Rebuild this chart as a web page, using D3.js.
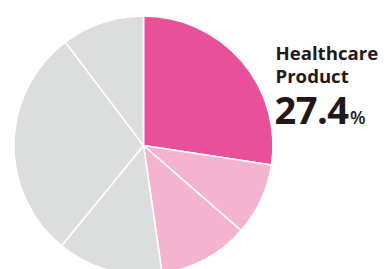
<!DOCTYPE html>
<html><head><meta charset="utf-8">
<script src="https://cdn.jsdelivr.net/npm/d3@7"></script>
<style>html,body{margin:0;padding:0;background:#fff;overflow:hidden}</style>
</head><body>
<svg id="c" width="387" height="269"></svg>
<script>
const categories = ["Healthcare Product","Segment B","Segment C","Segment D","Segment E","Segment F"];
const values = [27.4, 9.0, 11.3, 13.2, 28.8, 10.3];
const colors = ["#E8519A","#F4B4CF","#F4B4CF","#DCDEDD","#DCDEDD","#DCDEDD"];
const labelLines = ["Healthcare","Product"];
const labelValue = "27.4";

const svg = d3.select("#c");
const cx = 143.5, cy = 145.5, r = 129.5;
const pie = d3.pie().sort(null).value(d => d)(values);
const arc = d3.arc().innerRadius(0).outerRadius(r);
const g = svg.append("g").attr("transform", `translate(${cx},${cy})`);
g.selectAll("path").data(pie).join("path")
  .attr("d", arc)
  .attr("fill", (d,i) => colors[i])
  .attr("stroke", "#fff")
  .attr("stroke-width", 1.6)
  .attr("stroke-linejoin", "round");

const font = "'Open Sans', 'Noto Sans', sans-serif";
const t = svg.append("g").attr("fill", "#231815").style("font-family", font);
t.selectAll("text.l").data(labelLines).join("text").attr("class","l")
  .attr("x", 275.5).attr("y", (d,i) => 59.5 + i*23.3)
  .attr("font-size", 18.6).attr("font-weight", 700)
  .text(d => d);
const vt = t.append("text").attr("x", 274.5).attr("y", 123.5).attr("font-weight", 700);
vt.append("tspan").attr("font-size", 38).attr("letter-spacing", -0.5).text(labelValue);
vt.append("tspan").attr("font-size", 18).attr("dx", 1.5).attr("font-weight", 600).text("%");
</script>
</body></html>
